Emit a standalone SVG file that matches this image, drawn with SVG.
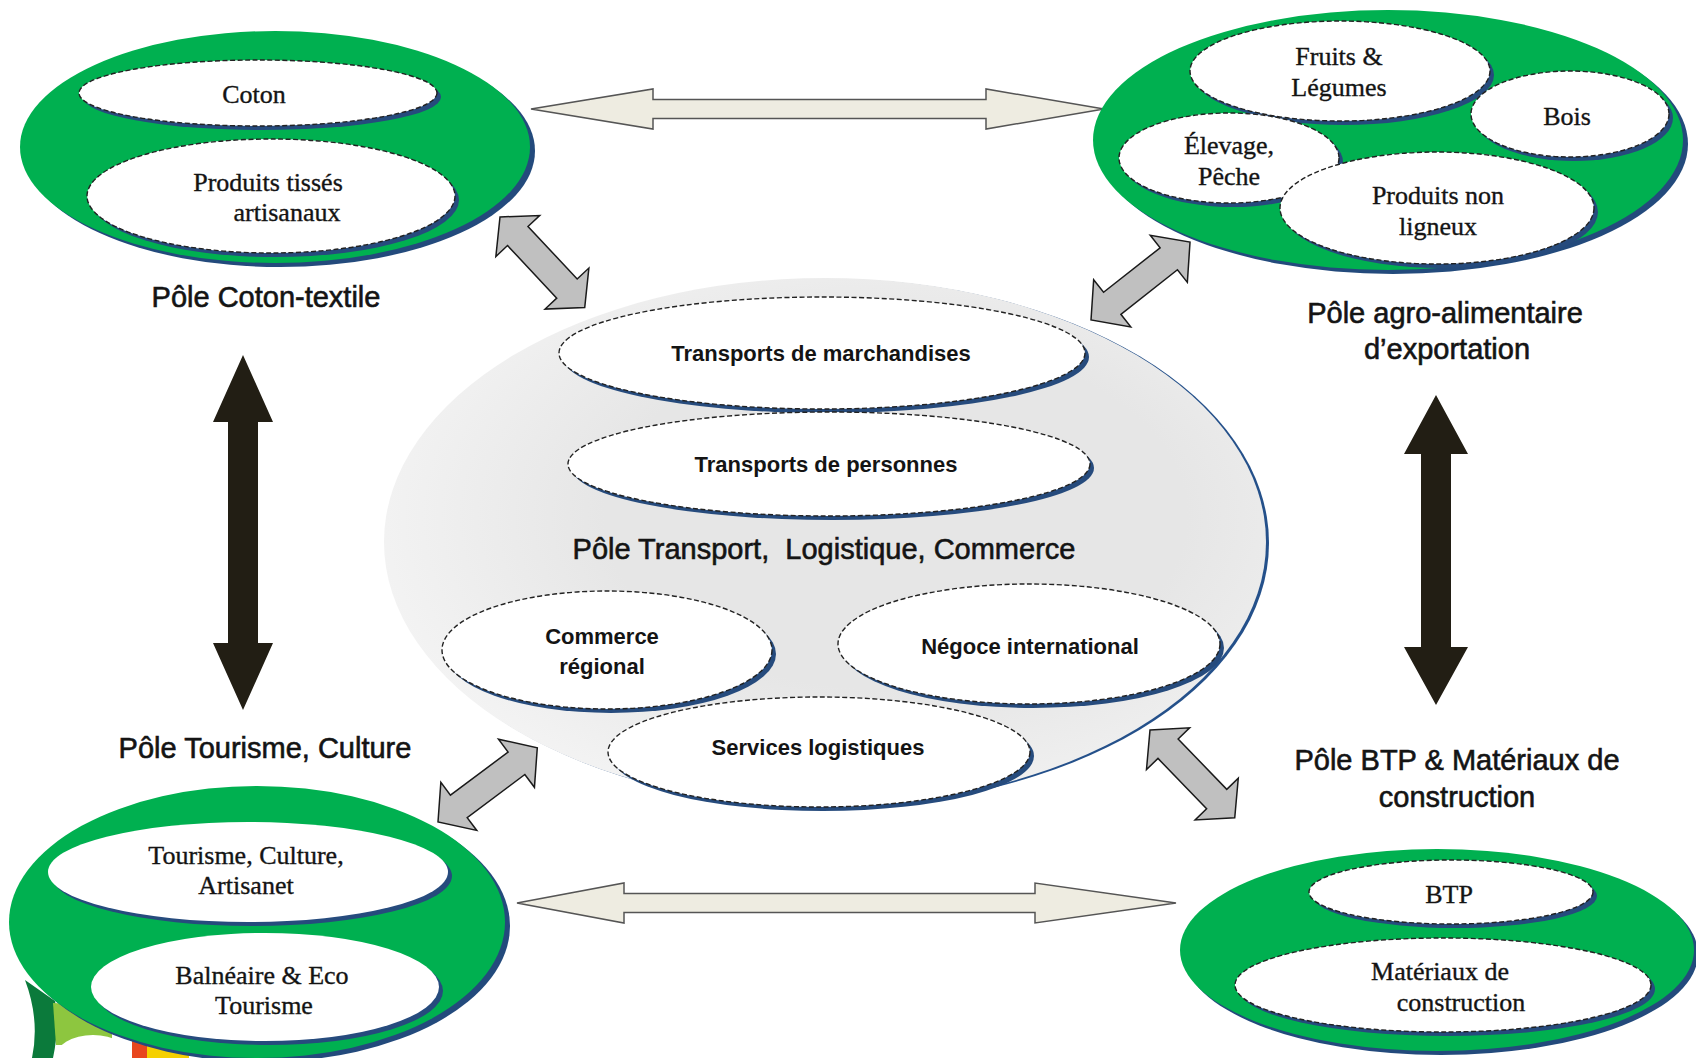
<svg xmlns="http://www.w3.org/2000/svg" width="1696" height="1058" viewBox="0 0 1696 1058">
<defs>
<style>
.g{fill:#00B050}
.gs{fill:#234A7C}
.in{fill:#ffffff;stroke:#222222;stroke-width:1.4;stroke-dasharray:5 2.5}
.ins{fill:#264B7D}
.sr{font-family:"Liberation Serif","Times New Roman",serif;font-size:26px;fill:#141414;stroke:#141414;stroke-width:0.35;text-anchor:middle;dominant-baseline:central}
.bd{font-family:"Liberation Sans",Arial,sans-serif;font-weight:bold;font-size:22px;fill:#141414;text-anchor:middle;dominant-baseline:central}
.pl{font-family:"Liberation Sans",Arial,sans-serif;font-size:29px;fill:#141414;stroke:#141414;stroke-width:0.6;text-anchor:middle;dominant-baseline:central;white-space:pre}
.ha{fill:#EEECE1;stroke:#555555;stroke-width:1.5;stroke-linejoin:miter}
.da{fill:#C0C0C0;stroke:#1a1a1a;stroke-width:1.5}
.va{fill:#221E14}
</style>
<radialGradient id="gr" cx="0.58" cy="0.45" r="0.6">
<stop offset="0.55" stop-color="#E6E6E6"/>
<stop offset="1" stop-color="#F3F3F3"/>
</radialGradient>
</defs>
<rect width="1696" height="1058" fill="#ffffff"/>

<!-- logo fragment bottom-left -->
<g id="logo-fragment">
<path d="M25,980 Q40,1020 32,1058 L53,1058 Q60,1025 55,1001 Z" fill="#0B7A3B"/>
<path d="M53,1003 L112,1006 L112,1045 L56,1045 Z" fill="#8DC63F"/>
<ellipse cx="93" cy="1058" rx="38" ry="23" fill="#ffffff"/>
<rect x="132" y="1040" width="15" height="18" fill="#E8461E"/>
<rect x="147" y="1043" width="42" height="15" fill="#F5D000"/>
</g>

<!-- connectors -->
<g id="connectors">
<polygon class="ha" points="531,109 653,89 653,99.5 986,99.5 986,89 1104,109 986,129 986,118.5 653,118.5 653,129"/>
<polygon class="ha" points="517,903 624,883 624,893.5 1035,893.5 1035,883 1176,903 1035,923 1035,912.5 624,912.5 624,923"/>
<polygon class="va" points="243,355 273,422 258,422 258,643 273,643 243,710 213,643 228,643 228,422 213,422"/>
<polygon class="va" points="1436,395 1468,454 1451,454 1451,647 1468,647 1436,705 1404,647 1421,647 1421,454 1404,454"/>
<polygon class="da" transform="translate(500,217) rotate(46.9)" points="0,0 26,-30 26,-14 98,-14 98,-30 124,0 98,30 98,14 26,14 26,30"/>
<polygon class="da" transform="translate(1091,320) rotate(-38.2)" points="0,0 27,-30 27,-14 99,-14 99,-30 126,0 99,30 99,14 27,14 27,30"/>
<polygon class="da" transform="translate(438,822) rotate(-36.8)" points="0,0 26,-30 26,-14 98,-14 98,-30 124,0 98,30 98,14 26,14 26,30"/>
<polygon class="da" transform="translate(1150,730) rotate(46)" points="0,0 26,-30 26,-14 96,-14 96,-30 122,0 96,30 96,14 26,14 26,30"/>
</g>

<!-- Pôle Coton-textile -->
<g id="pole-coton">
<ellipse class="gs" cx="280" cy="151" rx="255" ry="116"/>
<ellipse class="g" cx="275" cy="147" rx="255" ry="116"/>
<ellipse class="ins" cx="262" cy="97" rx="179" ry="33"/>
<ellipse class="in" cx="258" cy="93" rx="179" ry="33"/>
<text class="sr" x="254" y="94">Coton</text>
<ellipse class="ins" cx="275" cy="200" rx="184" ry="57"/>
<ellipse class="in" cx="271" cy="196" rx="184" ry="57"/>
<text class="sr" x="268" y="182">Produits tissés</text>
<text class="sr" x="287" y="212">artisanaux</text>
<text class="pl" x="266" y="297">Pôle Coton-textile</text>
</g>

<!-- Pôle agro-alimentaire -->
<g id="pole-agro">
<ellipse class="gs" cx="1393" cy="144" rx="295" ry="130"/>
<ellipse class="g" cx="1388" cy="140" rx="295" ry="130"/>
<ellipse class="ins" cx="1344" cy="75" rx="150" ry="50"/>
<ellipse class="in" cx="1340" cy="71" rx="150" ry="50"/>
<text class="sr" x="1339" y="56">Fruits &amp;</text>
<text class="sr" x="1339" y="87">Légumes</text>
<ellipse class="ins" cx="1574" cy="118" rx="99" ry="43"/>
<ellipse class="in" cx="1570" cy="114" rx="99" ry="43"/>
<text class="sr" x="1567" y="116">Bois</text>
<ellipse class="ins" cx="1233" cy="162" rx="110" ry="45"/>
<ellipse class="in" cx="1229" cy="158" rx="110" ry="45"/>
<text class="sr" x="1229" y="145">Élevage,</text>
<text class="sr" x="1229" y="176">Pêche</text>
<ellipse class="ins" cx="1441" cy="212" rx="157" ry="56"/>
<ellipse class="in" cx="1437" cy="208" rx="157" ry="56"/>
<text class="sr" x="1438" y="195">Produits non</text>
<text class="sr" x="1438" y="226">ligneux</text>
<text class="pl" x="1445" y="313">Pôle agro-alimentaire</text>
<text class="pl" x="1447" y="349">d’exportation</text>
</g>

<!-- Pôle Transport, Logistique, Commerce -->
<g id="pole-transport">
<ellipse cx="828" cy="543" rx="441" ry="264" fill="#24508A"/>
<ellipse cx="825" cy="542" rx="441" ry="264" fill="url(#gr)"/>
<ellipse class="ins" cx="826" cy="357" rx="263" ry="56"/>
<ellipse class="in" cx="822" cy="353" rx="263" ry="56"/>
<text class="bd" x="821" y="353">Transports de marchandises</text>
<ellipse class="ins" cx="833" cy="468" rx="261" ry="52"/>
<ellipse class="in" cx="829" cy="464" rx="261" ry="52"/>
<text class="bd" x="826" y="464">Transports de personnes</text>
<text class="pl" x="824" y="549">Pôle Transport,  Logistique, Commerce</text>
<ellipse class="ins" cx="611" cy="654" rx="165" ry="59"/>
<ellipse class="in" cx="607" cy="650" rx="165" ry="59"/>
<text class="bd" x="602" y="636">Commerce</text>
<text class="bd" x="602" y="666">régional</text>
<ellipse class="ins" cx="1033" cy="648" rx="191" ry="60"/>
<ellipse class="in" cx="1029" cy="644" rx="191" ry="60"/>
<text class="bd" x="1030" y="646">Négoce international</text>
<ellipse class="ins" cx="823" cy="756" rx="211" ry="55"/>
<ellipse class="in" cx="819" cy="752" rx="211" ry="55"/>
<text class="bd" x="818" y="747">Services logistiques</text>
</g>

<!-- Pôle Tourisme, Culture -->
<g id="pole-tourisme">
<text class="pl" x="265" y="748">Pôle Tourisme, Culture</text>
<ellipse class="gs" cx="262" cy="926" rx="248" ry="136"/>
<ellipse class="g" cx="257" cy="922" rx="248" ry="136"/>
<ellipse class="ins" cx="252" cy="876" rx="200" ry="50"/>
<ellipse cx="248" cy="872" rx="200" ry="50" fill="#ffffff"/>
<text class="sr" x="246" y="855">Tourisme, Culture,</text>
<text class="sr" x="246" y="885">Artisanet</text>
<ellipse class="ins" cx="269" cy="991" rx="174" ry="54"/>
<ellipse cx="265" cy="987" rx="174" ry="54" fill="#ffffff"/>
<text class="sr" x="262" y="975">Balnéaire &amp; Eco</text>
<text class="sr" x="264" y="1005">Tourisme</text>
</g>

<!-- Pôle BTP & Matériaux de construction -->
<g id="pole-btp">
<text class="pl" x="1457" y="760">Pôle BTP &amp; Matériaux de</text>
<text class="pl" x="1457" y="797">construction</text>
<ellipse class="gs" cx="1441" cy="954" rx="257" ry="101"/>
<ellipse class="g" cx="1437" cy="950" rx="257" ry="101"/>
<ellipse class="ins" cx="1455" cy="896" rx="142" ry="32"/>
<ellipse class="in" cx="1451" cy="892" rx="142" ry="32"/>
<text class="sr" x="1449" y="894">BTP</text>
<ellipse class="ins" cx="1447" cy="989" rx="208" ry="47"/>
<ellipse class="in" cx="1443" cy="985" rx="208" ry="47"/>
<text class="sr" x="1440" y="971">Matériaux de</text>
<text class="sr" x="1461" y="1002">construction</text>
</g>
</svg>
